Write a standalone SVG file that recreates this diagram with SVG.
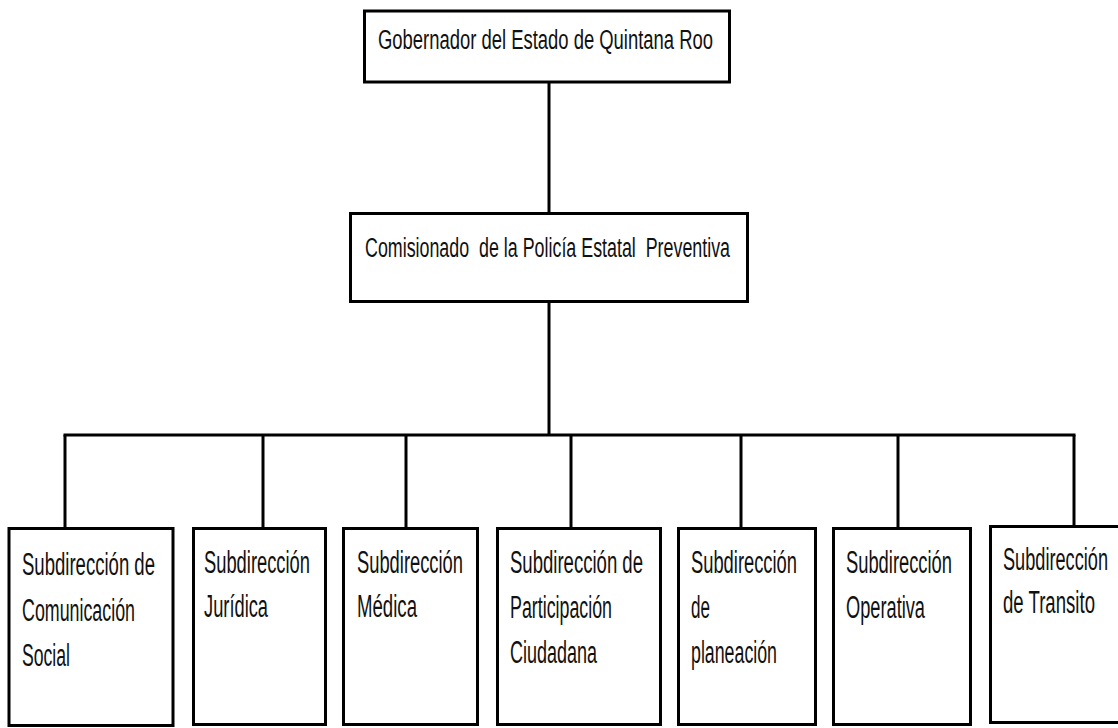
<svg xmlns="http://www.w3.org/2000/svg" width="1118" height="728" viewBox="0 0 1118 728">
<style>
.box{fill:#fff;stroke:#000;stroke-width:3}
.conn line{stroke:#000;stroke-width:3}
text{font-family:"Liberation Sans",Arial,sans-serif;fill:#111;white-space:pre}
.t{font-size:27px}
.s{font-size:31px}
</style>
<rect width="1118" height="728" fill="#fff"/>
<g class="conn">
<line x1="549" y1="82" x2="549" y2="213"/>
<line x1="549" y1="302" x2="549" y2="435"/>
<line x1="63.5" y1="435" x2="1075.5" y2="435"/>
<line x1="65" y1="435" x2="65" y2="528"/>
<line x1="263" y1="435" x2="263" y2="528"/>
<line x1="406" y1="435" x2="406" y2="528"/>
<line x1="571" y1="435" x2="571" y2="528"/>
<line x1="741" y1="435" x2="741" y2="528"/>
<line x1="898" y1="435" x2="898" y2="528"/>
<line x1="1074" y1="435" x2="1074" y2="526"/>
</g>
<g id="gobernador">
<rect class="box" x="364.5" y="11" width="365" height="71"/>
<text class="t" x="378" y="49" textLength="335" lengthAdjust="spacingAndGlyphs">Gobernador del Estado de Quintana Roo</text>
</g>
<g id="comisionado">
<rect class="box" x="350.5" y="213.5" width="397" height="88"/>
<text class="t" x="365" y="257" textLength="365" lengthAdjust="spacingAndGlyphs">Comisionado  de la Policía Estatal  Preventiva</text>
</g>
<g id="comunicacion">
<rect class="box" x="9" y="528.5" width="164" height="197"/>
<text class="s" x="22" y="575" textLength="133" lengthAdjust="spacingAndGlyphs">Subdirección de</text>
<text class="s" x="22" y="621" textLength="113" lengthAdjust="spacingAndGlyphs">Comunicación</text>
<text class="s" x="22" y="666" textLength="48" lengthAdjust="spacingAndGlyphs">Social</text>
</g>
<g id="juridica">
<rect class="box" x="193.5" y="528.5" width="132" height="196"/>
<text class="s" x="204" y="573" textLength="106" lengthAdjust="spacingAndGlyphs">Subdirección</text>
<text class="s" x="204" y="617" textLength="64" lengthAdjust="spacingAndGlyphs">Jurídica</text>
</g>
<g id="medica">
<rect class="box" x="343.5" y="528.5" width="134" height="196"/>
<text class="s" x="357" y="573" textLength="106" lengthAdjust="spacingAndGlyphs">Subdirección</text>
<text class="s" x="357" y="617" textLength="60" lengthAdjust="spacingAndGlyphs">Médica</text>
</g>
<g id="participacion">
<rect class="box" x="497.5" y="528.5" width="163" height="196"/>
<text class="s" x="510" y="573" textLength="133" lengthAdjust="spacingAndGlyphs">Subdirección de</text>
<text class="s" x="510" y="618" textLength="102" lengthAdjust="spacingAndGlyphs">Participación</text>
<text class="s" x="510" y="663" textLength="87" lengthAdjust="spacingAndGlyphs">Ciudadana</text>
</g>
<g id="planeacion">
<rect class="box" x="678.5" y="528.5" width="137" height="196"/>
<text class="s" x="691" y="573" textLength="106" lengthAdjust="spacingAndGlyphs">Subdirección</text>
<text class="s" x="691" y="618" textLength="19" lengthAdjust="spacingAndGlyphs">de</text>
<text class="s" x="691" y="663" textLength="86" lengthAdjust="spacingAndGlyphs">planeación</text>
</g>
<g id="operativa">
<rect class="box" x="833.5" y="528.5" width="137" height="196"/>
<text class="s" x="846" y="573" textLength="106" lengthAdjust="spacingAndGlyphs">Subdirección</text>
<text class="s" x="846" y="618" textLength="79" lengthAdjust="spacingAndGlyphs">Operativa</text>
</g>
<g id="transito">
<rect class="box" x="990.5" y="526.5" width="140" height="196"/>
<text class="s" x="1003" y="570" textLength="105" lengthAdjust="spacingAndGlyphs">Subdirección</text>
<text class="s" x="1003" y="613" textLength="92" lengthAdjust="spacingAndGlyphs">de Transito</text>
</g>
</svg>
